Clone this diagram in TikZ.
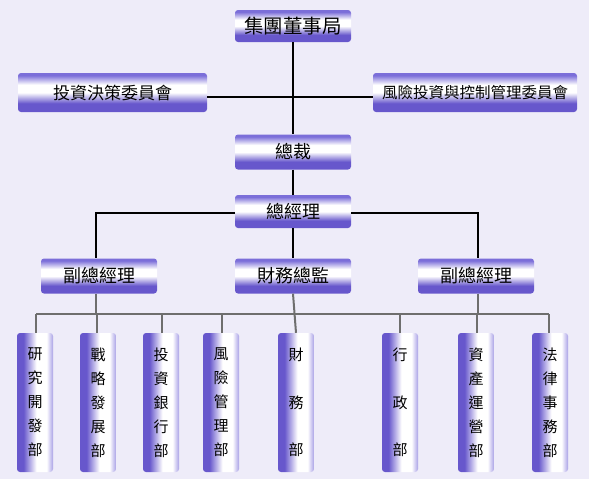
\documentclass[tikz,border=0pt]{standalone}
\usepackage{fontspec}
\newfontfamily\cjk{Noto Sans CJK TC}
\definecolor{bg}{HTML}{EEECF9}
\definecolor{pd}{HTML}{6757CC}
\definecolor{pm}{HTML}{7B6ED9}
\definecolor{edgec}{HTML}{D2CCF1}
\definecolor{busc}{HTML}{6E6E6E}
\pgfdeclareverticalshading{hbarshade}{100bp}{color(0bp)=(edgec); color(10bp)=(pd); color(36bp)=(pd); color(50bp)=(white); color(60bp)=(white); color(72bp)=(pm); color(86bp)=(pm); color(100bp)=(edgec)}
\pgfdeclarehorizontalshading{vbarshade}{100bp}{color(0bp)=(edgec); color(10bp)=(pd); color(34bp)=(pd); color(52bp)=(white); color(66bp)=(white); color(80bp)=(pm); color(92bp)=(pm); color(100bp)=(edgec)}
\begin{document}
\begin{tikzpicture}[x=1pt,y=-1pt,
  hbox/.style={shading=hbarshade, rounded corners=3pt, minimum width=116pt, minimum height=35pt, inner sep=0pt, text=black, font=\cjk\fontsize{18}{20}\selectfont},
  vbox/.style={shading=vbarshade, rounded corners=3pt, minimum width=36pt, minimum height=139pt, inner sep=0pt, align=center, text=black, font=\cjk\fontsize{15}{24}\selectfont},
  vbox3/.style={vbox, font=\cjk\fontsize{15}{47.5}\selectfont},
  topline/.style={draw=black, line width=1.6pt},
  busline/.style={draw=busc, line width=2pt}]
\fill[bg] (0,0) rectangle (589,479);
\useasboundingbox (0,0) rectangle (589,479);
% top level
\node[hbox, minimum height=32pt, font=\cjk\fontsize{19.5}{22}\selectfont] (board) at (293,26) {集團董事局};
\node[hbox, minimum width=189pt, minimum height=39pt, font=\cjk\fontsize{17}{20}\selectfont] (invc) at (112.5,92.5) {投資決策委員會};
\node[hbox, minimum width=204pt, minimum height=39pt, font=\cjk\fontsize{15.5}{18}\selectfont] (riskc) at (475,92.5) {風險投資與控制管理委員會};
\node[hbox] (ceo) at (293,152) {總裁};
\node[hbox, minimum height=33pt] (gm) at (293,211.5) {總經理};
\node[hbox] (vp1) at (99,276) {副總經理};
\node[hbox] (cfo) at (293,276) {財務總監};
\node[hbox] (vp2) at (476,276) {副總經理};
% departments
\node[vbox] (d1) at (35,402.5) {研\\究\\開\\發\\部};
\node[vbox] (d2) at (98,402.5) {戰\\略\\發\\展\\部};
\node[vbox] (d3) at (161,402.5) {投\\資\\銀\\行\\部};
\node[vbox] (d4) at (221,402.5) {風\\險\\管\\理\\部};
\node[vbox3] (d5) at (296,402.5) {財\\務\\部};
\node[vbox3] (d6) at (400,402.5) {行\\政\\部};
\node[vbox] (d7) at (476,402.5) {資\\產\\運\\營\\部};
\node[vbox] (d8) at (550,402.5) {法\\律\\事\\務\\部};
% connectors (top)
\draw[topline] (board.south) -- (ceo.north);
\draw[topline] ([yshift=-4.5pt]invc.east) -- ([yshift=-4.5pt]riskc.west);
\draw[topline] (ceo.south) -- (gm.north);
\draw[topline] (gm.south) -- (cfo.north);
\draw[topline] ([yshift=-1.5pt]gm.west) -| ([xshift=-3pt]vp1.north);
\draw[topline] ([yshift=-1.5pt]gm.east) -| ([xshift=2pt]vp2.north);
% bus
\coordinate (bus) at (0,314);
\draw[busline] ([xshift=-3pt]vp1.south) -- ([xshift=-3pt]vp1.south |- bus);
\draw[busline] ([xshift=2pt]vp2.south) -- ([xshift=2pt]vp2.south |- bus);
\draw[busline] ([xshift=1pt]d1.north |- bus) -- ([xshift=-1pt]d8.north |- bus);
\draw[busline] (cfo.south) -- (d5.north);
\foreach \d/\dx in {d1/1pt,d2/-1pt,d3/1pt,d4/1pt,d6/0pt,d7/1pt,d8/-1pt}{
  \draw[busline] ([xshift=\dx]\d.north |- bus) -- ([xshift=\dx]\d.north);
}
\end{tikzpicture}
\end{document}
